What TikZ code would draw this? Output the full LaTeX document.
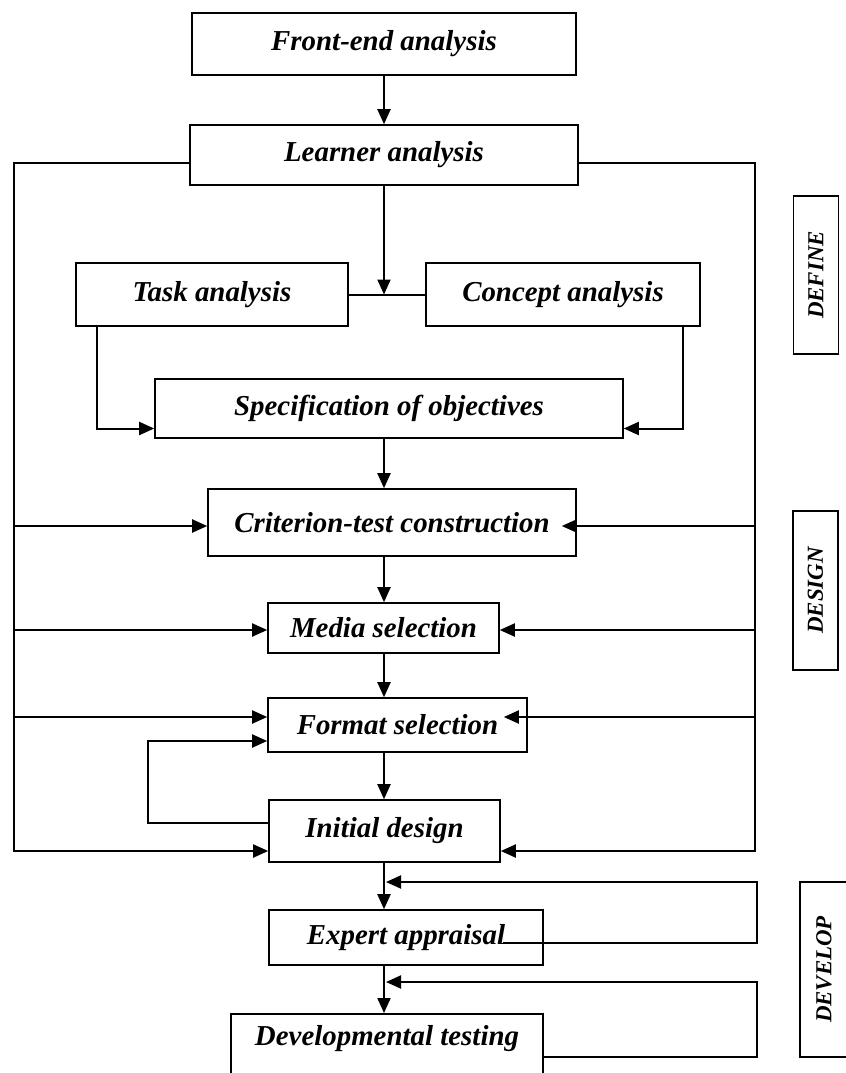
\documentclass[tikz,border=0pt]{standalone}
\usepackage{fontspec}
\setmainfont{Liberation Serif}
\usetikzlibrary{calc,arrows.meta}

\begin{document}
\begin{tikzpicture}[x=1bp,y=-1bp,
  box/.style={draw,line width=1.6bp,inner sep=0pt,font=\fontsize{29}{32}\selectfont\bfseries\itshape},
  phase/.style={draw,line width=1.6bp,rotate=90,inner sep=0pt,font=\fontsize{23}{26}\selectfont\bfseries\itshape},
  arr/.style={line width=2bp,-{Triangle[length=15bp,width=13bp]}},
  link/.style={line width=2bp}]
  \useasboundingbox (0,0) rectangle (846,1073);
  % steps
  \node[box,minimum width=384bp,minimum height=62bp] (front) at (384,44) {Front-end analysis};
  \node[box,minimum width=388bp,minimum height=60bp] (learner) at (384,155) {Learner analysis};
  \node[box,minimum width=272bp,minimum height=63bp] (task) at (212,294.5) {Task analysis};
  \node[box,minimum width=274bp,minimum height=63bp] (concept) at (563,294.5) {Concept analysis};
  \node[box,minimum width=468bp,minimum height=59bp] (spec) at (389,408.5) {Specification of objectives};
  \node[box,minimum width=368bp,minimum height=67bp] (crit) at (392,522.5) {Criterion-test construction};
  \node[box,minimum width=231bp,minimum height=50bp] (media) at (383.5,628) {Media selection};
  \node[box,minimum width=259bp,minimum height=54bp] (format) at (397.5,725) {Format selection};
  \node[box,minimum width=231bp,minimum height=62bp] (initial) at (384.5,831) {Initial design};
  \node[box,minimum width=274bp,minimum height=55bp] (expert) at (406,937.5) {Expert appraisal};
  \node[box,minimum width=312bp,text height=32bp,text depth=60bp,anchor=north] (devtest) at (387,1013) {Developmental testing};
  % phases
  \node[phase,minimum width=158bp,minimum height=45bp] (define) at (816,275) {DEFINE};
  \node[phase,minimum width=159bp,minimum height=45bp] (design) at (815.5,590.5) {DESIGN};
  \node[phase,minimum width=175bp,minimum height=48bp] (develop) at (824,969.5) {DEVELOP};
  % main line
  \draw[arr] (front) -- (learner);
  \draw[arr] (learner.south) -- (learner.south |- task.east);
  \draw[link] (task) -- (concept);
  \coordinate (specl) at ([yshift=-20bp]spec.west);
  \coordinate (specr) at ([yshift=-20bp]spec.east);
  \draw[arr] ([xshift=22bp]task.south west) |- (specl);
  \draw[arr] ([xshift=-18bp]concept.south east) |- (specr);
  \draw[arr] (spec.south -| learner) -- (crit.north -| learner);
  \draw[arr] (crit.south -| learner) -- (media.north -| learner);
  \draw[arr] (media.south -| learner) -- (format.north -| learner);
  \draw[arr] (format.south -| learner) -- (initial.north -| learner);
  \draw[arr] (initial.south -| learner) -- (expert.north -| learner);
  \draw[arr] (expert.south -| learner) -- (devtest.north -| learner);
  % side buses
  \coordinate (lbus) at (14,851);
  \coordinate (rbus) at (755,851);
  \draw[arr] ([yshift=-8bp]learner.west) -| (lbus) -- (lbus -| initial.west);
  \draw[arr] ([yshift=-8bp]learner.east) -| (rbus) -- (rbus -| initial.east);
  \foreach \n/\dy/\dx in {crit/-3.5/-15,media/-2/0,format/8/-24} {
    \coordinate (\n in) at ([yshift=\dy bp]\n.west);
    \coordinate (\n rt) at ([xshift=\dx bp,yshift=\dy bp]\n.east);
    \draw[arr] (\n in -| lbus) -- (\n in);
    \draw[arr] (\n rt -| rbus) -- (\n rt);
  }
  % loop back to format
  \coordinate (loopx) at (148,0);
  \coordinate (fmtloop) at ([yshift=-16bp]format.west);
  \draw[arr] ([yshift=8bp]initial.west) -| (loopx |- fmtloop) -- (fmtloop);
  % develop feedback
  \coordinate (fbx) at (757,0);
  \coordinate (fb1) at (386,882);
  \coordinate (fb2) at (386,982);
  \draw[arr] ([xshift=-41bp,yshift=-5.5bp]expert.east) -| (fbx |- fb1) -- (fb1);
  \draw[arr] ([yshift=3bp]devtest.east) -| (fbx |- fb2) -- (fb2);
\end{tikzpicture}
\end{document}
